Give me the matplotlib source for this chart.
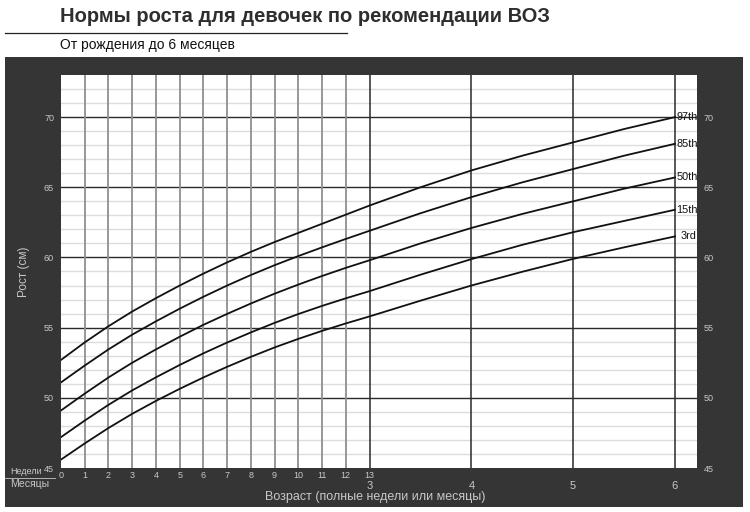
import matplotlib
matplotlib.use("Agg")
import matplotlib.pyplot as plt
from matplotlib.patches import Rectangle
from matplotlib.lines import Line2D

plt.rcParams["font.family"] = ["Liberation Sans", "DejaVu Sans"]

# ---------------------------------------------------------------- data
weeks = list(range(14))
months = [3.5, 4, 4.5, 5, 5.5, 6]     # month 3 == week 13
month_ticks = [3, 4, 5, 6]
week_labels = [str(w) for w in weeks]
month_labels = [str(m) for m in month_ticks]
percentile_labels = ["3rd", "15th", "50th", "85th", "97th"]

# length in cm
p3_weeks = [45.6, 46.75, 47.85, 48.86, 49.78, 50.64, 51.45, 52.21, 52.92, 53.59, 54.2, 54.77, 55.3, 55.8]
p15_weeks = [47.2, 48.38, 49.5, 50.53, 51.46, 52.34, 53.17, 53.94, 54.66, 55.34, 55.97, 56.55, 57.09, 57.6]
p50_weeks = [49.1, 50.3, 51.45, 52.5, 53.45, 54.35, 55.2, 55.98, 56.72, 57.42, 58.07, 58.68, 59.26, 59.8]
p85_weeks = [51.1, 52.3, 53.45, 54.5, 55.45, 56.35, 57.2, 58.0, 58.75, 59.45, 60.1, 60.72, 61.32, 61.9]
p97_weeks = [52.7, 53.95, 55.1, 56.15, 57.1, 58.0, 58.85, 59.65, 60.4, 61.1, 61.75, 62.4, 63.05, 63.7]

p3_months = [56.92, 58.0, 58.98, 59.9, 60.72, 61.5]
p15_months = [58.77, 59.88, 60.9, 61.8, 62.6, 63.4]
p50_months = [61.0, 62.1, 63.1, 64.0, 64.9, 65.7]
p85_months = [63.15, 64.3, 65.35, 66.3, 67.25, 68.1]
p97_months = [65.0, 66.2, 67.25, 68.2, 69.15, 70.0]

series_weeks = [p3_weeks, p15_weeks, p50_weeks, p85_weeks, p97_weeks]
series_months = [p3_months, p15_months, p50_months, p85_months, p97_months]

# ---------------------------------------------------------------- layout
DARK = "#353535"
LIGHT_TXT = "#c8c8c8"
MONTH_WIDTH = 4.29   # one month on the axis, in week widths


def month_pos(m):
    return 13 + (m - 3) * MONTH_WIDTH


fig = plt.figure(figsize=(7.5, 5.12), dpi=100)
fig.patch.set_facecolor("white")

# dark frame behind the chart
fig.patches.append(Rectangle((5 / 750, 5 / 512), 738 / 750, 450 / 512,
                             transform=fig.transFigure, facecolor=DARK,
                             edgecolor="none", zorder=-5))
# title, rule, subtitle
fig.text(60 / 750, 1 - 17 / 512, "Нормы роста для девочек по рекомендации ВОЗ",
         fontsize=14.5, fontweight="bold", color="#2e2e2e", va="center", ha="left")
fig.lines.append(Line2D([5 / 750, 347 / 750], [1 - 33 / 512, 1 - 33 / 512],
                        transform=fig.transFigure, color="#222222", lw=0.9))
fig.text(60 / 750, 1 - 45 / 512, "От рождения до 6 месяцев",
         fontsize=10, color="#111111", va="center", ha="left")

ax = fig.add_axes([61 / 750, 44 / 512, 636 / 750, 393 / 512])
ax.set_zorder(1)
ax.set_facecolor("white")
ax.set_xlim(0, month_pos(6) + 22 / 23.7)
ax.set_ylim(45, 73)
for s in ax.spines.values():
    s.set_visible(False)

# grid
for y in range(46, 73):
    if y % 5:
        ax.axhline(y, color="#dcdcdc", lw=1.0, zorder=1)
for y in range(50, 71, 5):
    ax.axhline(y, color="#2a2a2a", lw=1.0, zorder=2)
for w in weeks[1:13]:
    ax.axvline(w, color="#8f8f8f", lw=1.3, zorder=2)
for m in month_ticks:
    ax.axvline(month_pos(m), color="#2a2a2a", lw=1.1, zorder=2)

# percentile curves
for lab, yw, ym in zip(percentile_labels, series_weeks, series_months):
    xs = weeks + [month_pos(m) for m in months]
    ys = yw + ym
    ax.plot(xs, ys, color="#111111", lw=1.3, zorder=3)
    dx = 0.25 if lab == "3rd" else 0.05
    ax.text(xs[-1] + dx, ys[-1], lab, fontsize=7.8, color="#111111",
            ha="left", va="center", zorder=4)

# y ticks both sides
ax.set_yticks(range(45, 71, 5))
ax.tick_params(axis="y", length=0, labelsize=6.5, labelcolor=LIGHT_TXT,
               labelright=True, pad=5)
ax.set_ylabel("Рост (см)", color=LIGHT_TXT, fontsize=8.5, labelpad=10)

# week ticks
ax.set_xticks(weeks)
ax.set_xticklabels(week_labels)
ax.tick_params(axis="x", length=0, labelsize=6.5, labelcolor=LIGHT_TXT, pad=2)

# month labels
trans = ax.get_xaxis_transform()
for m, lab in zip(month_ticks, month_labels):
    ax.text(month_pos(m), -0.046, lab, transform=trans, fontsize=8,
            color=LIGHT_TXT, ha="center", va="center")

fig.text(10 / 750, 1 - 472 / 512, "Недели", fontsize=6.5, color=LIGHT_TXT,
         ha="left", va="center")
fig.lines.append(Line2D([5 / 750, 55 / 750], [1 - 478 / 512, 1 - 478 / 512],
                        transform=fig.transFigure, color=LIGHT_TXT, lw=0.6))
fig.text(10 / 750, 1 - 484 / 512, "Месяцы", fontsize=7.5, color=LIGHT_TXT,
         ha="left", va="center")
fig.text(375 / 750, 1 - 497 / 512, "Возраст (полные недели или месяцы)",
         fontsize=9, color=LIGHT_TXT, ha="center", va="center")

fig.savefig("out.png", dpi=100, facecolor=fig.get_facecolor())
